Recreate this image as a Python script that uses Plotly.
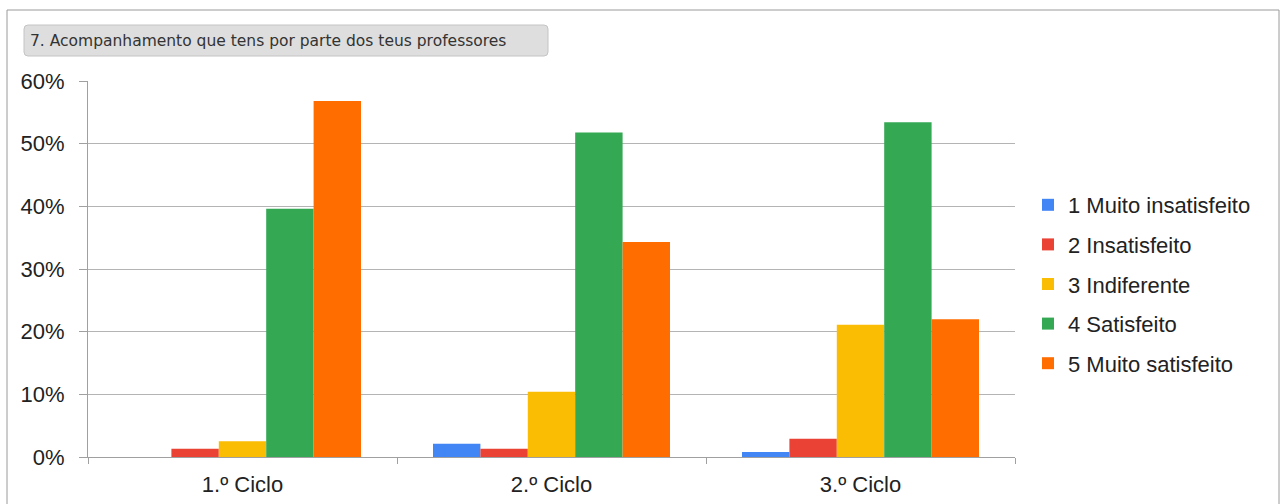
import plotly.graph_objects as go

# dados (percentagens)
ciclos = ["1.º Ciclo", "2.º Ciclo", "3.º Ciclo"]
muito_insatisfeito = [0.0, 2.1, 0.8]
insatisfeito = [1.3, 1.3, 2.9]
indiferente = [2.5, 10.4, 21.1]
satisfeito = [39.6, 51.8, 53.4]
muito_satisfeito = [56.8, 34.3, 22.0]

series = [
    ("1 Muito insatisfeito", muito_insatisfeito, "#4285F4"),
    ("2 Insatisfeito", insatisfeito, "#EA4335"),
    ("3 Indiferente", indiferente, "#FBBC04"),
    ("4 Satisfeito", satisfeito, "#34A853"),
    ("5 Muito satisfeito", muito_satisfeito, "#FF6D01"),
]

W, H = 1280, 504
L, R, T, B = 88, 1015, 81, 457


def px(x):
    return (x - L) / (R - L)


def py(y):
    return (B - y) / (B - T)


fig = go.Figure()
for i, (nome, vals, cor) in enumerate(series):
    fig.add_trace(go.Bar(
        x=ciclos, y=vals, name=nome,
        marker=dict(color=cor, line=dict(width=0)),
        legendgroup=str(i),
    ))

# caixa do título com cantos arredondados
x0, x1, y0, y1, r = px(24), px(548), py(25), py(56), 4
rx, ry = r / (R - L), r / (B - T)
caminho = (f"M {x0+rx},{y0} L {x1-rx},{y0} Q {x1},{y0} {x1},{y0-ry} "
           f"L {x1},{y1+ry} Q {x1},{y1} {x1-rx},{y1} L {x0+rx},{y1} "
           f"Q {x0},{y1} {x0},{y1+ry} L {x0},{y0-ry} Q {x0},{y0} {x0+rx},{y0} Z")

shapes = [
    # moldura exterior
    dict(type="rect", xref="paper", yref="paper", x0=px(7), x1=px(1279), y0=py(10), y1=py(520),
         line=dict(color="#9a9a9a", width=1), fillcolor="rgba(0,0,0,0)", layer="below"),
    dict(type="path", xref="paper", yref="paper", path=caminho,
         line=dict(color="#c4c4c4", width=1), fillcolor="#dedede", layer="below"),
]

fig.add_annotation(
    text="7. Acompanhamento que tens por parte dos teus professores",
    xref="paper", yref="paper", x=px(28), y=py(41), xanchor="left", yanchor="middle",
    showarrow=False, font=dict(family="DejaVu Sans", size=15.5, color="#333333"),
)

fig.update_layout(
    width=W, height=H,
    margin=dict(l=L, r=W - R, t=T, b=H - B),
    paper_bgcolor="white", plot_bgcolor="white",
    barmode="group", bargap=0.233, bargroupgap=0,
    font=dict(family="Liberation Sans, Arial", size=22, color="#222222"),
    shapes=shapes,
    showlegend=True,
    legend=dict(x=px(1028), y=py(184), xanchor="left", yanchor="top",
                font=dict(size=22, color="#222222"), tracegroupgap=8,
                itemwidth=30, bgcolor="rgba(0,0,0,0)"),
    xaxis=dict(
        showgrid=False, showline=True, linecolor="#a0a0a0", linewidth=1,
        ticks="outside", tickson="boundaries", ticklen=6, tickcolor="#a0a0a0",
        ticklabelstandoff=8, automargin=False,
    ),
    yaxis=dict(
        range=[0, 60], dtick=10, ticksuffix="%",
        showgrid=True, gridcolor="#b4b4b4", gridwidth=1,
        showline=True, linecolor="#a0a0a0", linewidth=1,
        ticks="outside", ticklen=8, tickcolor="#a0a0a0",
        ticklabelstandoff=10, zeroline=False, automargin=False,
    ),
)

fig.write_html("out.html", config={"displayModeBar": False},
               post_script="document.body.style.margin='0px';")
